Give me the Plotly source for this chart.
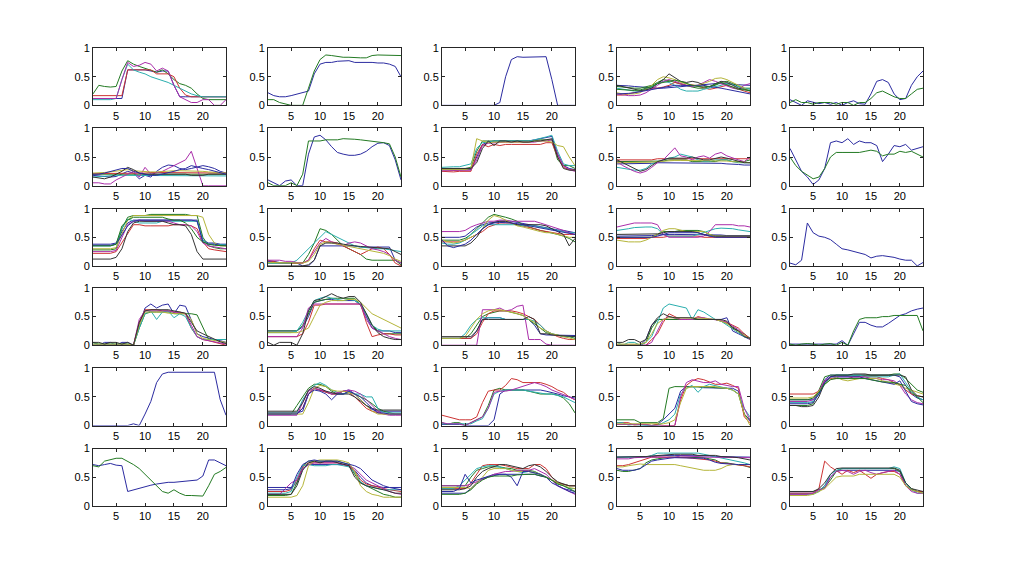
import plotly.graph_objects as go

X = list(range(1, 25))

panel_01 = [
    [0.12,0.12,0.12,0.12,0.12,0.12,0.62,0.62,0.62,0.62,0.60,0.58, 0.60,0.60,0.35,0.15,0.15,0.15,0.15,0.15,0.15,0.15,0.15,0.15],
    [0.20,0.35,0.33,0.32,0.33,0.60,0.78,0.72,0.68,0.65,0.62,0.58, 0.62,0.55,0.45,0.38,0.35,0.30,0.20,0.12,0.10,0.10,0.10,0.10],
    [0.17,0.17,0.17,0.17,0.17,0.17,0.62,0.62,0.62,0.62,0.62,0.55, 0.55,0.55,0.50,0.30,0.18,0.15,0.15,0.15,0.15,0.15,0.15,0.15],
    [0.10,0.10,0.10,0.10,0.12,0.45,0.72,0.62,0.58,0.55,0.50,0.47, 0.43,0.40,0.35,0.30,0.25,0.20,0.17,0.15,0.15,0.15,0.15,0.15],
    [0.12,0.12,0.12,0.12,0.12,0.45,0.75,0.68,0.70,0.75,0.72,0.60, 0.65,0.60,0.35,0.15,0.10,0.05,0.05,0.10,0.10,0.00,0.00,0.10],
]
panel_02 = [
    [0.22,0.17,0.15,0.15,0.17,0.20,0.22,0.25,0.55,0.72,0.75,0.75, 0.77,0.78,0.78,0.75,0.75,0.76,0.75,0.74,0.74,0.72,0.68,0.50],
    [0.10,0.10,0.05,0.02,0.00,0.00,0.00,0.30,0.60,0.80,0.88,0.87, 0.85,0.84,0.84,0.83,0.83,0.83,0.87,0.88,0.88,0.88,0.88,0.87],
]
panel_03 = [
    [0,0,0,0,0,0,0,0,0,0,0.05,0.50, 0.80,0.85,0.84,0.84,0.84,0.84,0.85,0.45,0,0,0,0],
]
panel_04 = [
    [0.35,0.35,0.34,0.33,0.32,0.31,0.30,0.30,0.30,0.31,0.32,0.33, 0.34,0.35,0.36,0.37,0.37,0.38,0.38,0.38,0.37,0.36,0.35,0.35],
    [0.33,0.32,0.30,0.30,0.30,0.32,0.35,0.40,0.45,0.43,0.40,0.38, 0.35,0.32,0.30,0.30,0.33,0.35,0.40,0.42,0.38,0.33,0.30,0.30],
    [0.18,0.18,0.20,0.22,0.25,0.27,0.30,0.30,0.32,0.35,0.40,0.38, 0.35,0.36,0.33,0.30,0.28,0.30,0.32,0.35,0.32,0.28,0.25,0.22],
    [0.30,0.28,0.26,0.25,0.25,0.28,0.32,0.38,0.42,0.40,0.35,0.28, 0.25,0.25,0.25,0.28,0.30,0.32,0.35,0.38,0.36,0.32,0.30,0.28],
    [0.20,0.18,0.17,0.17,0.18,0.22,0.28,0.35,0.42,0.45,0.42,0.38, 0.35,0.33,0.35,0.40,0.45,0.42,0.38,0.35,0.30,0.28,0.35,0.38],
    [0.22,0.20,0.20,0.20,0.22,0.28,0.35,0.45,0.50,0.48,0.45,0.40, 0.38,0.35,0.35,0.38,0.42,0.47,0.48,0.45,0.40,0.35,0.30,0.25],
    [0.35,0.33,0.30,0.28,0.26,0.27,0.30,0.38,0.45,0.55,0.48,0.42, 0.40,0.42,0.40,0.35,0.32,0.38,0.42,0.40,0.35,0.30,0.28,0.25],
    [0.20,0.20,0.21,0.22,0.24,0.26,0.28,0.30,0.32,0.34,0.35,0.35, 0.35,0.35,0.35,0.34,0.33,0.32,0.30,0.28,0.26,0.24,0.22,0.20],
    [0.28,0.27,0.26,0.26,0.27,0.30,0.33,0.38,0.40,0.42,0.44,0.42, 0.38,0.35,0.33,0.32,0.33,0.36,0.40,0.36,0.32,0.28,0.27,0.26],
]
panel_05 = [
    [0.10,0.05,0.00,0.08,0.05,0.03,0.05,0.02,0.05,0.00,0.05,0.08, 0.03,0.02,0.20,0.42,0.45,0.40,0.20,0.10,0.12,0.35,0.50,0.60],
    [0.05,0.10,0.05,0.05,0.02,0.05,0.05,0.05,0.02,0.05,0.05,0.00, 0.05,0.05,0.12,0.22,0.25,0.20,0.15,0.12,0.12,0.20,0.28,0.30],
]
panel_06 = [
    [0.18,0.17,0.15,0.15,0.16,0.20,0.25,0.22,0.12,0.18,0.15,0.25, 0.32,0.36,0.35,0.30,0.28,0.30,0.32,0.35,0.33,0.30,0.25,0.22],
    [0.20,0.20,0.20,0.20,0.20,0.20,0.20,0.20,0.19,0.19,0.19,0.19, 0.19,0.20,0.20,0.20,0.20,0.20,0.20,0.20,0.20,0.20,0.20,0.20],
    [0.21,0.21,0.21,0.21,0.22,0.22,0.22,0.22,0.22,0.22,0.23,0.23, 0.23,0.23,0.23,0.23,0.23,0.23,0.23,0.22,0.22,0.22,0.22,0.22],
    [0.15,0.16,0.17,0.18,0.18,0.18,0.18,0.18,0.18,0.18,0.17,0.17, 0.17,0.17,0.17,0.17,0.17,0.17,0.17,0.17,0.17,0.17,0.17,0.17],
    [0.05,0.05,0.03,0.03,0.10,0.15,0.20,0.25,0.15,0.32,0.20,0.22, 0.25,0.30,0.35,0.40,0.45,0.60,0.30,0.00,0.00,0.00,0.00,0.00],
    [0.22,0.22,0.23,0.24,0.25,0.27,0.28,0.26,0.25,0.24,0.24,0.24, 0.25,0.25,0.26,0.26,0.26,0.26,0.25,0.25,0.24,0.23,0.23,0.22],
    [0.15,0.14,0.12,0.15,0.20,0.25,0.32,0.28,0.22,0.20,0.20,0.20, 0.20,0.20,0.20,0.20,0.20,0.18,0.18,0.18,0.20,0.20,0.20,0.20],
    [0.20,0.20,0.22,0.25,0.28,0.30,0.30,0.25,0.22,0.20,0.18,0.18, 0.20,0.22,0.25,0.28,0.30,0.35,0.32,0.30,0.28,0.25,0.22,0.20],
]
panel_07 = [
    [0.10,0.05,0.00,0.08,0.10,0.00,0.00,0.55,0.85,0.88,0.80,0.68, 0.58,0.55,0.53,0.53,0.55,0.60,0.68,0.74,0.75,0.70,0.45,0.10],
    [0.05,0.00,0.00,0.00,0.05,0.00,0.20,0.78,0.78,0.78,0.80,0.80, 0.80,0.82,0.82,0.81,0.80,0.79,0.78,0.77,0.75,0.73,0.50,0.15],
]
panel_08 = [
    [0.28,0.28,0.28,0.28,0.28,0.28,0.50,0.72,0.76,0.78,0.78,0.78, 0.78,0.78,0.78,0.78,0.80,0.82,0.85,0.86,0.55,0.35,0.30,0.28],
    [0.30,0.30,0.30,0.30,0.30,0.32,0.60,0.78,0.78,0.78,0.78,0.78, 0.78,0.78,0.78,0.78,0.78,0.80,0.80,0.80,0.45,0.35,0.35,0.30],
    [0.25,0.24,0.24,0.25,0.25,0.25,0.55,0.72,0.68,0.72,0.70,0.72, 0.72,0.72,0.72,0.72,0.72,0.72,0.75,0.75,0.50,0.32,0.28,0.27],
    [0.32,0.33,0.33,0.33,0.35,0.38,0.65,0.75,0.76,0.78,0.78,0.78, 0.78,0.78,0.78,0.78,0.80,0.82,0.85,0.88,0.60,0.38,0.35,0.35],
    [0.26,0.26,0.26,0.26,0.26,0.27,0.45,0.70,0.74,0.75,0.75,0.76, 0.76,0.76,0.76,0.76,0.76,0.78,0.78,0.80,0.55,0.35,0.28,0.25],
    [0.28,0.28,0.28,0.28,0.28,0.30,0.82,0.78,0.75,0.76,0.76,0.76, 0.75,0.75,0.75,0.76,0.78,0.78,0.78,0.76,0.70,0.68,0.50,0.35],
    [0.30,0.30,0.30,0.30,0.30,0.30,0.40,0.65,0.78,0.70,0.78,0.78, 0.76,0.78,0.76,0.76,0.78,0.78,0.80,0.82,0.50,0.30,0.27,0.27],
]
panel_09 = [
    [0.38,0.38,0.38,0.38,0.38,0.38,0.39,0.40,0.40,0.40,0.40,0.40, 0.40,0.40,0.40,0.40,0.40,0.40,0.39,0.38,0.38,0.37,0.36,0.36],
    [0.42,0.42,0.42,0.42,0.42,0.42,0.42,0.42,0.43,0.45,0.45,0.45, 0.45,0.42,0.42,0.42,0.42,0.42,0.45,0.45,0.42,0.42,0.42,0.45],
    [0.45,0.45,0.45,0.45,0.45,0.45,0.45,0.47,0.47,0.47,0.47,0.47, 0.47,0.47,0.47,0.47,0.47,0.47,0.47,0.47,0.47,0.47,0.47,0.47],
    [0.32,0.30,0.28,0.27,0.27,0.30,0.38,0.42,0.45,0.48,0.50,0.55, 0.52,0.50,0.45,0.42,0.42,0.45,0.45,0.45,0.42,0.40,0.40,0.40],
    [0.42,0.35,0.30,0.25,0.22,0.25,0.32,0.40,0.45,0.55,0.66,0.52, 0.50,0.45,0.50,0.52,0.48,0.55,0.58,0.52,0.48,0.45,0.42,0.50],
    [0.40,0.40,0.40,0.40,0.40,0.40,0.41,0.42,0.43,0.44,0.44,0.44, 0.44,0.44,0.44,0.44,0.44,0.44,0.44,0.43,0.42,0.41,0.40,0.40],
    [0.45,0.40,0.35,0.30,0.25,0.28,0.35,0.42,0.45,0.48,0.48,0.48, 0.48,0.50,0.48,0.45,0.45,0.48,0.50,0.48,0.45,0.42,0.40,0.40],
]
panel_10 = [
    [0.65,0.45,0.25,0.15,0.02,0.10,0.30,0.75,0.78,0.75,0.82,0.72, 0.78,0.75,0.75,0.70,0.42,0.55,0.70,0.68,0.72,0.62,0.65,0.68],
    [0.50,0.35,0.25,0.18,0.12,0.15,0.30,0.50,0.58,0.58,0.58,0.57, 0.58,0.60,0.62,0.60,0.52,0.55,0.55,0.60,0.58,0.60,0.55,0.50],
]
panel_11 = [
    [0.38,0.38,0.38,0.38,0.40,0.60,0.75,0.80,0.80,0.80,0.80,0.80, 0.80,0.80,0.80,0.80,0.80,0.80,0.80,0.45,0.40,0.40,0.38,0.38],
    [0.28,0.28,0.28,0.28,0.30,0.65,0.85,0.88,0.88,0.88,0.90,0.90, 0.90,0.90,0.90,0.90,0.90,0.88,0.88,0.50,0.35,0.32,0.30,0.30],
    [0.22,0.22,0.22,0.22,0.25,0.40,0.55,0.72,0.72,0.70,0.70,0.70, 0.70,0.70,0.72,0.72,0.72,0.70,0.65,0.42,0.30,0.28,0.27,0.25],
    [0.35,0.35,0.35,0.35,0.38,0.65,0.82,0.78,0.75,0.75,0.75,0.75, 0.78,0.78,0.78,0.78,0.78,0.78,0.78,0.45,0.38,0.38,0.37,0.37],
    [0.25,0.25,0.25,0.25,0.27,0.50,0.72,0.78,0.80,0.78,0.78,0.78, 0.78,0.78,0.75,0.72,0.72,0.70,0.60,0.40,0.35,0.33,0.32,0.30],
    [0.30,0.30,0.30,0.30,0.32,0.55,0.80,0.88,0.88,0.88,0.88,0.88, 0.88,0.88,0.88,0.88,0.88,0.88,0.88,0.85,0.55,0.40,0.35,0.35],
    [0.12,0.12,0.12,0.12,0.15,0.30,0.60,0.75,0.78,0.78,0.78,0.78, 0.78,0.75,0.72,0.72,0.70,0.55,0.25,0.12,0.12,0.12,0.12,0.12],
    [0.36,0.36,0.36,0.36,0.38,0.55,0.70,0.78,0.80,0.80,0.80,0.80, 0.80,0.80,0.80,0.80,0.80,0.80,0.78,0.42,0.38,0.38,0.36,0.36],
    [0.35,0.35,0.35,0.35,0.38,0.70,0.80,0.85,0.85,0.85,0.85,0.85, 0.85,0.82,0.80,0.80,0.75,0.65,0.50,0.42,0.38,0.36,0.35,0.35],
]
panel_12 = [
    [0.08,0.08,0.06,0.05,0.05,0.05,0.00,0.00,0.10,0.35,0.35,0.35, 0.35,0.35,0.35,0.35,0.33,0.33,0.33,0.33,0.33,0.33,0.10,0.05],
    [0.05,0.05,0.05,0.05,0.05,0.05,0.05,0.20,0.40,0.65,0.62,0.55, 0.45,0.35,0.30,0.25,0.20,0.12,0.10,0.10,0.10,0.10,0.10,0.02],
    [0.10,0.08,0.05,0.05,0.05,0.05,0.05,0.10,0.30,0.45,0.42,0.42, 0.40,0.35,0.30,0.25,0.20,0.25,0.30,0.33,0.30,0.20,0.05,0.00],
    [0.05,0.05,0.05,0.05,0.05,0.10,0.20,0.30,0.40,0.50,0.60,0.55, 0.50,0.45,0.40,0.35,0.33,0.32,0.30,0.30,0.30,0.28,0.27,0.25],
    [0.10,0.10,0.10,0.08,0.08,0.06,0.05,0.10,0.25,0.40,0.48,0.42, 0.38,0.35,0.40,0.42,0.40,0.35,0.30,0.28,0.25,0.20,0.10,0.05],
    [0.06,0.06,0.05,0.05,0.05,0.05,0.05,0.08,0.20,0.38,0.42,0.40, 0.38,0.36,0.34,0.32,0.30,0.28,0.26,0.25,0.22,0.18,0.12,0.08],
    [0.00,0.00,0.00,0.00,0.00,0.00,0.00,0.02,0.10,0.35,0.40,0.40, 0.40,0.38,0.36,0.35,0.34,0.33,0.33,0.32,0.30,0.30,0.25,0.20],
]
panel_13 = [
    [0.50,0.50,0.50,0.50,0.52,0.60,0.68,0.72,0.75,0.76,0.78,0.78, 0.78,0.76,0.74,0.72,0.70,0.68,0.66,0.65,0.63,0.62,0.60,0.58],
    [0.45,0.45,0.45,0.45,0.48,0.55,0.65,0.75,0.85,0.90,0.88,0.85, 0.82,0.78,0.72,0.68,0.65,0.62,0.60,0.58,0.55,0.52,0.48,0.42],
    [0.42,0.42,0.42,0.42,0.45,0.50,0.55,0.60,0.68,0.72,0.75,0.75, 0.75,0.72,0.70,0.68,0.65,0.62,0.60,0.58,0.56,0.55,0.55,0.55],
    [0.40,0.38,0.38,0.40,0.45,0.55,0.62,0.70,0.72,0.72,0.72,0.72, 0.72,0.72,0.70,0.70,0.70,0.68,0.66,0.64,0.62,0.60,0.58,0.58],
    [0.60,0.60,0.60,0.60,0.62,0.68,0.72,0.75,0.78,0.78,0.80,0.80, 0.78,0.78,0.78,0.78,0.78,0.75,0.72,0.68,0.65,0.62,0.58,0.55],
    [0.45,0.42,0.40,0.42,0.45,0.50,0.55,0.65,0.80,0.88,0.85,0.80, 0.75,0.70,0.68,0.65,0.62,0.60,0.58,0.58,0.55,0.52,0.50,0.50],
    [0.35,0.35,0.35,0.35,0.35,0.40,0.50,0.65,0.72,0.76,0.78,0.78, 0.75,0.72,0.72,0.72,0.72,0.72,0.70,0.65,0.60,0.55,0.35,0.48],
    [0.45,0.35,0.32,0.35,0.38,0.45,0.55,0.65,0.72,0.75,0.76,0.76, 0.75,0.74,0.72,0.70,0.68,0.66,0.64,0.62,0.60,0.58,0.56,0.55],
]
panel_14 = [
    [0.52,0.52,0.52,0.52,0.52,0.52,0.53,0.54,0.55,0.55,0.55,0.55, 0.55,0.55,0.55,0.55,0.55,0.54,0.54,0.53,0.53,0.53,0.53,0.53],
    [0.50,0.50,0.50,0.50,0.50,0.50,0.50,0.55,0.60,0.60,0.60,0.62, 0.62,0.62,0.62,0.60,0.55,0.52,0.52,0.50,0.50,0.50,0.50,0.50],
    [0.48,0.48,0.48,0.48,0.48,0.48,0.50,0.50,0.50,0.52,0.52,0.52, 0.52,0.52,0.52,0.50,0.50,0.50,0.50,0.50,0.50,0.50,0.50,0.50],
    [0.62,0.63,0.65,0.67,0.68,0.68,0.68,0.65,0.55,0.52,0.52,0.52, 0.52,0.52,0.55,0.58,0.62,0.65,0.66,0.66,0.65,0.63,0.62,0.60],
    [0.68,0.70,0.72,0.75,0.75,0.75,0.75,0.72,0.55,0.50,0.50,0.50, 0.50,0.50,0.50,0.52,0.60,0.72,0.72,0.72,0.72,0.70,0.70,0.68],
    [0.45,0.43,0.42,0.42,0.42,0.45,0.50,0.55,0.62,0.65,0.65,0.63, 0.60,0.60,0.60,0.60,0.55,0.52,0.52,0.52,0.52,0.52,0.52,0.52],
    [0.55,0.55,0.55,0.55,0.55,0.55,0.55,0.56,0.58,0.60,0.60,0.60, 0.60,0.60,0.58,0.55,0.52,0.52,0.52,0.52,0.52,0.52,0.52,0.52],
    [0.50,0.50,0.50,0.50,0.50,0.50,0.50,0.52,0.55,0.58,0.58,0.58, 0.58,0.58,0.58,0.55,0.52,0.50,0.50,0.50,0.50,0.50,0.50,0.50],
]
panel_15 = [
    [0.05,0.02,0.10,0.75,0.58,0.52,0.50,0.46,0.38,0.30,0.28,0.25, 0.22,0.20,0.14,0.17,0.18,0.17,0.15,0.12,0.10,0.10,0.00,0.06],
]
panel_16 = [
    [0.05,0.00,0.05,0.05,0.00,0.05,0.05,0.00,0.35,0.65,0.72,0.65, 0.70,0.72,0.55,0.70,0.68,0.45,0.20,0.15,0.12,0.10,0.08,0.05],
    [0.05,0.02,0.02,0.02,0.02,0.02,0.02,0.00,0.30,0.55,0.58,0.58, 0.58,0.58,0.55,0.55,0.55,0.55,0.53,0.30,0.10,0.10,0.10,0.10],
    [0.00,0.00,0.00,0.00,0.00,0.00,0.00,0.00,0.40,0.62,0.62,0.62, 0.60,0.60,0.58,0.58,0.55,0.30,0.15,0.10,0.08,0.05,0.02,0.00],
    [0.02,0.02,0.02,0.02,0.02,0.02,0.02,0.00,0.30,0.55,0.60,0.45, 0.58,0.60,0.48,0.55,0.50,0.30,0.15,0.10,0.10,0.10,0.10,0.10],
    [0.00,0.00,0.00,0.00,0.00,0.00,0.00,0.00,0.45,0.60,0.60,0.60, 0.60,0.60,0.58,0.56,0.55,0.35,0.15,0.10,0.08,0.05,0.03,0.02],
    [0.02,0.02,0.02,0.02,0.02,0.02,0.02,0.00,0.35,0.58,0.58,0.58, 0.58,0.56,0.55,0.55,0.55,0.45,0.20,0.12,0.10,0.08,0.06,0.05],
    [0.05,0.05,0.02,0.05,0.05,0.02,0.05,0.00,0.40,0.60,0.62,0.62, 0.62,0.62,0.60,0.58,0.56,0.40,0.25,0.20,0.15,0.10,0.06,0.03],
]
panel_17 = [
    [0.25,0.25,0.25,0.25,0.25,0.25,0.32,0.50,0.75,0.78,0.80,0.80, 0.78,0.78,0.78,0.78,0.70,0.50,0.30,0.25,0.25,0.25,0.22,0.22],
    [0.25,0.25,0.25,0.25,0.25,0.25,0.35,0.55,0.75,0.78,0.80,0.82, 0.82,0.82,0.82,0.82,0.70,0.55,0.35,0.25,0.20,0.20,0.20,0.20],
    [0.15,0.15,0.15,0.15,0.15,0.15,0.20,0.40,0.70,0.70,0.72,0.72, 0.72,0.72,0.72,0.72,0.72,0.40,0.15,0.18,0.20,0.20,0.18,0.18],
    [0.22,0.22,0.22,0.22,0.22,0.25,0.40,0.60,0.78,0.82,0.85,0.82, 0.80,0.78,0.80,0.78,0.72,0.55,0.35,0.28,0.25,0.25,0.25,0.25],
    [0.15,0.15,0.15,0.15,0.15,0.15,0.30,0.65,0.72,0.72,0.72,0.72, 0.72,0.72,0.72,0.72,0.72,0.45,0.30,0.25,0.20,0.15,0.12,0.10],
    [0.22,0.22,0.22,0.22,0.22,0.22,0.25,0.30,0.50,0.70,0.75,0.78, 0.78,0.78,0.80,0.80,0.75,0.65,0.55,0.50,0.45,0.40,0.35,0.30],
    [0.05,0.00,0.05,0.05,0.05,0.00,0.20,0.60,0.78,0.80,0.85,0.90, 0.85,0.82,0.85,0.85,0.75,0.55,0.35,0.22,0.15,0.12,0.10,0.10],
]
panel_18 = [
    [0.12,0.12,0.12,0.12,0.12,0.12,0.25,0.45,0.48,0.48,0.48,0.45, 0.45,0.45,0.45,0.45,0.35,0.20,0.18,0.18,0.17,0.17,0.17,0.17],
    [0.12,0.12,0.12,0.12,0.12,0.20,0.35,0.50,0.55,0.58,0.60,0.60, 0.58,0.55,0.52,0.45,0.38,0.30,0.22,0.20,0.18,0.15,0.15,0.12],
    [0.12,0.12,0.12,0.12,0.12,0.12,0.20,0.40,0.55,0.60,0.60,0.60, 0.60,0.58,0.55,0.50,0.45,0.35,0.25,0.20,0.15,0.12,0.10,0.10],
    [0.12,0.12,0.12,0.12,0.20,0.35,0.45,0.48,0.48,0.48,0.48,0.45, 0.45,0.45,0.45,0.45,0.42,0.35,0.25,0.20,0.18,0.15,0.15,0.15],
    [0.00,0.00,0.00,0.00,0.00,0.00,0.00,0.62,0.62,0.62,0.65,0.60, 0.62,0.68,0.70,0.10,0.10,0.10,0.02,0.00,0.00,0.00,0.00,0.00],
    [0.12,0.12,0.12,0.12,0.15,0.30,0.45,0.55,0.60,0.62,0.62,0.60, 0.58,0.55,0.52,0.45,0.40,0.30,0.25,0.20,0.18,0.15,0.12,0.10],
    [0.15,0.15,0.15,0.15,0.15,0.15,0.25,0.45,0.45,0.45,0.45,0.45, 0.45,0.45,0.45,0.50,0.45,0.20,0.20,0.18,0.17,0.16,0.15,0.15],
]
panel_19 = [
    [0.00,0.00,0.00,0.00,0.00,0.10,0.35,0.45,0.45,0.45,0.45,0.45, 0.45,0.45,0.45,0.45,0.45,0.45,0.45,0.48,0.25,0.20,0.15,0.10],
    [0.00,0.00,0.00,0.00,0.00,0.05,0.30,0.45,0.45,0.45,0.45,0.45, 0.45,0.45,0.45,0.45,0.45,0.45,0.42,0.38,0.32,0.25,0.20,0.12],
    [0.00,0.00,0.00,0.00,0.00,0.00,0.10,0.20,0.40,0.55,0.50,0.45, 0.45,0.45,0.50,0.48,0.45,0.45,0.42,0.40,0.35,0.30,0.20,0.12],
    [0.05,0.00,0.05,0.05,0.00,0.05,0.15,0.40,0.65,0.72,0.70,0.68, 0.65,0.45,0.62,0.58,0.52,0.45,0.42,0.35,0.28,0.22,0.15,0.12],
    [0.00,0.00,0.00,0.00,0.00,0.00,0.05,0.25,0.45,0.50,0.48,0.45, 0.45,0.45,0.48,0.48,0.46,0.45,0.43,0.40,0.33,0.27,0.18,0.10],
    [0.02,0.02,0.02,0.02,0.02,0.05,0.20,0.38,0.45,0.48,0.48,0.48, 0.48,0.48,0.48,0.47,0.46,0.45,0.42,0.38,0.30,0.24,0.17,0.11],
    [0.05,0.05,0.10,0.10,0.05,0.10,0.35,0.48,0.55,0.50,0.48,0.48, 0.48,0.48,0.45,0.45,0.45,0.45,0.45,0.42,0.30,0.25,0.15,0.12],
]
panel_20 = [
    [0.02,0.02,0.02,0.03,0.03,0.02,0.02,0.02,0.02,0.08,0.00,0.20, 0.40,0.40,0.35,0.32,0.32,0.38,0.45,0.52,0.55,0.60,0.63,0.65],
    [0.02,0.00,0.02,0.03,0.02,0.00,0.02,0.03,0.00,0.05,0.00,0.25, 0.45,0.48,0.48,0.48,0.50,0.50,0.52,0.52,0.53,0.52,0.52,0.25],
]
panel_21 = [
    [0.00,0.00,0.00,0.00,0.01,0.00,0.00,0.03,0.00,0.20,0.42,0.75, 0.90,0.93,0.93,0.93,0.93,0.93,0.93,0.93,0.93,0.93,0.45,0.18],
]
panel_22 = [
    [0.22,0.22,0.22,0.22,0.22,0.22,0.25,0.55,0.65,0.62,0.58,0.55, 0.55,0.60,0.62,0.55,0.45,0.35,0.28,0.25,0.25,0.25,0.25,0.25],
    [0.20,0.20,0.20,0.20,0.20,0.35,0.50,0.65,0.72,0.72,0.68,0.60, 0.55,0.55,0.58,0.55,0.50,0.45,0.38,0.30,0.25,0.22,0.20,0.20],
    [0.22,0.22,0.22,0.22,0.22,0.22,0.30,0.55,0.65,0.62,0.58,0.55, 0.55,0.60,0.58,0.50,0.40,0.30,0.25,0.22,0.20,0.20,0.20,0.20],
    [0.22,0.22,0.22,0.22,0.22,0.22,0.45,0.60,0.70,0.75,0.70,0.62, 0.58,0.55,0.58,0.55,0.55,0.50,0.50,0.30,0.22,0.22,0.22,0.22],
    [0.18,0.18,0.18,0.18,0.18,0.18,0.40,0.60,0.65,0.62,0.60,0.55, 0.58,0.60,0.62,0.60,0.55,0.45,0.35,0.25,0.20,0.18,0.18,0.18],
    [0.20,0.20,0.20,0.20,0.20,0.20,0.20,0.40,0.65,0.70,0.68,0.62, 0.60,0.60,0.58,0.55,0.45,0.35,0.25,0.20,0.20,0.20,0.20,0.20],
    [0.25,0.25,0.25,0.25,0.25,0.25,0.40,0.62,0.68,0.65,0.60,0.58, 0.55,0.55,0.55,0.50,0.42,0.35,0.30,0.27,0.27,0.27,0.27,0.27],
    [0.20,0.20,0.20,0.20,0.20,0.20,0.30,0.55,0.62,0.60,0.55,0.45, 0.55,0.55,0.60,0.55,0.50,0.40,0.30,0.22,0.22,0.20,0.20,0.20],
]
panel_23 = [
    [0.02,0.02,0.02,0.02,0.00,0.00,0.00,0.00,0.00,0.10,0.55,0.62, 0.62,0.62,0.62,0.62,0.62,0.62,0.60,0.58,0.55,0.52,0.50,0.48],
    [0.05,0.02,0.05,0.05,0.00,0.05,0.10,0.15,0.35,0.62,0.65,0.62, 0.62,0.62,0.62,0.60,0.58,0.55,0.55,0.55,0.53,0.48,0.38,0.22],
    [0.18,0.15,0.12,0.10,0.10,0.10,0.15,0.40,0.60,0.62,0.62,0.70, 0.82,0.80,0.75,0.75,0.75,0.75,0.72,0.68,0.62,0.58,0.50,0.45],
    [0.03,0.03,0.03,0.03,0.02,0.03,0.08,0.12,0.30,0.55,0.60,0.62, 0.62,0.62,0.62,0.60,0.58,0.56,0.55,0.55,0.52,0.50,0.45,0.40],
    [0.05,0.03,0.03,0.03,0.00,0.05,0.10,0.15,0.30,0.58,0.60,0.60, 0.62,0.65,0.68,0.72,0.75,0.72,0.68,0.62,0.58,0.55,0.50,0.45],
]
panel_24 = [
    [0.02,0.02,0.03,0.02,0.02,0.00,0.00,0.02,0.10,0.20,0.30,0.60, 0.68,0.68,0.68,0.66,0.66,0.66,0.66,0.65,0.65,0.60,0.20,0.08],
    [0.10,0.10,0.10,0.10,0.05,0.05,0.05,0.05,0.12,0.65,0.68,0.68, 0.68,0.68,0.68,0.68,0.67,0.66,0.66,0.65,0.62,0.55,0.20,0.10],
    [0.05,0.05,0.05,0.00,0.02,0.02,0.00,0.02,0.00,0.00,0.00,0.45, 0.70,0.78,0.82,0.80,0.76,0.72,0.72,0.74,0.70,0.65,0.15,0.05],
    [0.05,0.05,0.00,0.02,0.00,0.00,0.00,0.00,0.05,0.10,0.20,0.55, 0.65,0.70,0.58,0.68,0.72,0.70,0.68,0.65,0.62,0.55,0.30,0.15],
    [0.02,0.02,0.02,0.02,0.02,0.02,0.00,0.00,0.00,0.00,0.00,0.50, 0.75,0.80,0.78,0.75,0.75,0.78,0.72,0.70,0.68,0.68,0.30,0.10],
    [0.03,0.03,0.03,0.03,0.03,0.03,0.03,0.03,0.03,0.05,0.10,0.40, 0.65,0.68,0.68,0.68,0.68,0.68,0.66,0.65,0.62,0.55,0.20,0.00],
]
panel_25 = [
    [0.45,0.45,0.45,0.45,0.45,0.55,0.80,0.88,0.88,0.88,0.88,0.88, 0.88,0.88,0.88,0.88,0.88,0.88,0.88,0.85,0.70,0.55,0.48,0.45],
    [0.35,0.35,0.35,0.35,0.38,0.60,0.85,0.88,0.88,0.88,0.88,0.88, 0.88,0.88,0.88,0.88,0.88,0.88,0.90,0.90,0.82,0.72,0.62,0.58],
    [0.55,0.55,0.55,0.55,0.55,0.60,0.78,0.82,0.82,0.82,0.82,0.85, 0.85,0.85,0.85,0.85,0.82,0.80,0.75,0.72,0.62,0.55,0.52,0.50],
    [0.40,0.40,0.40,0.40,0.42,0.55,0.72,0.85,0.88,0.88,0.88,0.88, 0.88,0.85,0.85,0.85,0.85,0.85,0.88,0.90,0.75,0.60,0.50,0.45],
    [0.42,0.42,0.42,0.42,0.45,0.60,0.78,0.85,0.85,0.85,0.85,0.85, 0.85,0.85,0.82,0.82,0.80,0.80,0.78,0.70,0.55,0.45,0.40,0.38],
    [0.48,0.48,0.48,0.48,0.50,0.60,0.72,0.80,0.85,0.80,0.78,0.80, 0.82,0.82,0.82,0.82,0.78,0.75,0.72,0.70,0.65,0.62,0.58,0.55],
    [0.35,0.35,0.33,0.33,0.35,0.50,0.75,0.85,0.88,0.88,0.88,0.90, 0.90,0.90,0.88,0.88,0.88,0.88,0.88,0.88,0.85,0.62,0.52,0.50],
    [0.38,0.38,0.38,0.38,0.40,0.55,0.75,0.85,0.85,0.85,0.85,0.85, 0.85,0.82,0.80,0.78,0.76,0.74,0.72,0.78,0.60,0.42,0.38,0.36],
    [0.45,0.45,0.45,0.45,0.48,0.58,0.72,0.80,0.82,0.82,0.82,0.82, 0.82,0.82,0.80,0.78,0.76,0.76,0.75,0.72,0.70,0.58,0.50,0.40],
]
panel_26 = [
    [0.72,0.70,0.72,0.74,0.71,0.70,0.25,0.28,0.31,0.34,0.36,0.38, 0.40,0.41,0.41,0.42,0.43,0.43,0.45,0.52,0.80,0.80,0.75,0.70],
    [0.70,0.68,0.78,0.80,0.83,0.83,0.78,0.72,0.65,0.55,0.45,0.35, 0.25,0.22,0.28,0.22,0.18,0.18,0.17,0.17,0.35,0.55,0.60,0.67],
]
panel_27 = [
    [0.32,0.32,0.32,0.32,0.32,0.40,0.65,0.72,0.72,0.72,0.72,0.72, 0.72,0.72,0.70,0.62,0.50,0.40,0.35,0.33,0.32,0.32,0.32,0.32],
    [0.18,0.18,0.18,0.18,0.20,0.40,0.70,0.78,0.78,0.78,0.78,0.78, 0.78,0.75,0.72,0.55,0.40,0.35,0.30,0.25,0.20,0.18,0.15,0.15],
    [0.25,0.25,0.25,0.25,0.28,0.45,0.68,0.75,0.75,0.75,0.75,0.75, 0.75,0.72,0.70,0.60,0.45,0.38,0.35,0.32,0.30,0.28,0.26,0.25],
    [0.22,0.22,0.22,0.22,0.25,0.50,0.70,0.72,0.70,0.70,0.70,0.72, 0.72,0.70,0.68,0.58,0.42,0.35,0.32,0.30,0.28,0.28,0.28,0.28],
    [0.20,0.20,0.20,0.30,0.40,0.45,0.65,0.72,0.75,0.75,0.75,0.75, 0.75,0.72,0.70,0.65,0.55,0.45,0.40,0.35,0.30,0.25,0.22,0.20],
    [0.15,0.15,0.15,0.15,0.15,0.18,0.35,0.70,0.78,0.80,0.80,0.80, 0.80,0.78,0.75,0.60,0.35,0.25,0.20,0.18,0.15,0.15,0.15,0.15],
    [0.20,0.20,0.20,0.20,0.20,0.35,0.62,0.75,0.78,0.75,0.78,0.78, 0.75,0.72,0.70,0.50,0.40,0.35,0.32,0.30,0.28,0.25,0.22,0.22],
    [0.28,0.28,0.28,0.28,0.30,0.55,0.72,0.78,0.80,0.78,0.78,0.78, 0.78,0.75,0.72,0.70,0.65,0.55,0.45,0.40,0.35,0.32,0.30,0.28],
]
panel_28 = [
    [0.22,0.22,0.22,0.22,0.22,0.30,0.40,0.48,0.52,0.55,0.55,0.55, 0.55,0.55,0.55,0.55,0.55,0.52,0.50,0.45,0.35,0.30,0.28,0.25],
    [0.35,0.35,0.35,0.35,0.35,0.50,0.62,0.65,0.68,0.68,0.68,0.66, 0.65,0.62,0.62,0.62,0.60,0.55,0.50,0.45,0.40,0.38,0.35,0.35],
    [0.30,0.30,0.30,0.30,0.30,0.40,0.55,0.70,0.72,0.72,0.72,0.70, 0.68,0.65,0.65,0.65,0.72,0.72,0.65,0.50,0.40,0.38,0.35,0.35],
    [0.30,0.30,0.30,0.35,0.45,0.55,0.65,0.68,0.70,0.70,0.68,0.65, 0.62,0.60,0.58,0.60,0.58,0.55,0.50,0.45,0.38,0.35,0.30,0.30],
    [0.35,0.35,0.35,0.35,0.35,0.38,0.42,0.45,0.50,0.55,0.58,0.60, 0.60,0.62,0.62,0.62,0.65,0.60,0.55,0.45,0.35,0.30,0.25,0.20],
    [0.32,0.32,0.32,0.32,0.32,0.30,0.40,0.50,0.62,0.65,0.65,0.65, 0.62,0.60,0.60,0.60,0.58,0.55,0.50,0.45,0.40,0.35,0.32,0.30],
    [0.28,0.28,0.28,0.28,0.30,0.35,0.50,0.60,0.65,0.68,0.72,0.72, 0.70,0.68,0.65,0.70,0.72,0.68,0.60,0.50,0.42,0.38,0.35,0.35],
    [0.25,0.25,0.25,0.30,0.55,0.40,0.45,0.48,0.50,0.52,0.55,0.55, 0.50,0.35,0.60,0.60,0.58,0.55,0.50,0.40,0.35,0.30,0.25,0.22],
    [0.20,0.20,0.20,0.20,0.22,0.28,0.38,0.45,0.50,0.52,0.52,0.52, 0.52,0.54,0.55,0.55,0.55,0.52,0.50,0.45,0.38,0.35,0.30,0.25],
]
panel_29 = [
    [0.85,0.85,0.85,0.85,0.85,0.85,0.86,0.87,0.88,0.88,0.88,0.88, 0.88,0.88,0.88,0.88,0.87,0.86,0.86,0.86,0.86,0.86,0.85,0.85],
    [0.62,0.60,0.60,0.62,0.65,0.75,0.80,0.82,0.84,0.85,0.85,0.85, 0.85,0.85,0.85,0.84,0.82,0.80,0.75,0.75,0.73,0.72,0.70,0.67],
    [0.70,0.70,0.72,0.75,0.78,0.82,0.85,0.85,0.85,0.85,0.85,0.85, 0.84,0.83,0.82,0.82,0.80,0.78,0.75,0.74,0.73,0.72,0.70,0.68],
    [0.85,0.85,0.84,0.84,0.84,0.85,0.88,0.92,0.92,0.92,0.92,0.92, 0.92,0.92,0.92,0.90,0.88,0.86,0.84,0.82,0.80,0.78,0.75,0.72],
    [0.82,0.82,0.82,0.84,0.85,0.85,0.85,0.85,0.85,0.85,0.85,0.87, 0.87,0.87,0.86,0.85,0.85,0.85,0.85,0.84,0.84,0.84,0.84,0.84],
    [0.68,0.68,0.70,0.72,0.73,0.72,0.72,0.72,0.72,0.72,0.72,0.70, 0.68,0.66,0.64,0.62,0.62,0.62,0.65,0.70,0.72,0.72,0.72,0.72],
    [0.85,0.85,0.85,0.85,0.85,0.86,0.87,0.88,0.88,0.90,0.90,0.90, 0.90,0.90,0.88,0.88,0.88,0.88,0.86,0.86,0.85,0.84,0.82,0.80],
    [0.65,0.62,0.62,0.62,0.65,0.72,0.78,0.80,0.82,0.83,0.84,0.84, 0.84,0.84,0.84,0.83,0.80,0.76,0.74,0.73,0.72,0.72,0.72,0.72],
]
panel_30 = [
    [0.22,0.22,0.22,0.22,0.22,0.25,0.35,0.50,0.60,0.62,0.62,0.62, 0.62,0.62,0.62,0.62,0.62,0.62,0.62,0.60,0.35,0.28,0.25,0.25],
    [0.25,0.25,0.25,0.25,0.25,0.28,0.32,0.45,0.60,0.65,0.65,0.65, 0.65,0.65,0.65,0.65,0.65,0.65,0.65,0.60,0.40,0.30,0.25,0.22],
    [0.22,0.22,0.22,0.22,0.22,0.30,0.78,0.68,0.62,0.55,0.62,0.58, 0.62,0.55,0.48,0.55,0.58,0.60,0.60,0.55,0.35,0.28,0.25,0.25],
    [0.20,0.20,0.20,0.20,0.20,0.25,0.35,0.55,0.62,0.65,0.65,0.65, 0.65,0.65,0.65,0.65,0.65,0.65,0.68,0.65,0.40,0.28,0.22,0.22],
    [0.20,0.20,0.20,0.20,0.22,0.28,0.30,0.50,0.60,0.62,0.60,0.55, 0.60,0.62,0.58,0.55,0.58,0.60,0.62,0.55,0.35,0.25,0.22,0.22],
    [0.18,0.18,0.18,0.18,0.20,0.25,0.30,0.40,0.50,0.52,0.52,0.52, 0.55,0.55,0.55,0.55,0.55,0.55,0.55,0.50,0.35,0.28,0.25,0.22],
    [0.25,0.25,0.25,0.25,0.25,0.30,0.40,0.55,0.65,0.66,0.66,0.66, 0.66,0.66,0.66,0.66,0.66,0.66,0.66,0.62,0.40,0.30,0.28,0.25],
]

PANELS = [
    panel_01, panel_02, panel_03, panel_04, panel_05,
    panel_06, panel_07, panel_08, panel_09, panel_10,
    panel_11, panel_12, panel_13, panel_14, panel_15,
    panel_16, panel_17, panel_18, panel_19, panel_20,
    panel_21, panel_22, panel_23, panel_24, panel_25,
    panel_26, panel_27, panel_28, panel_29, panel_30,
]

X_TICKS = [5, 10, 15, 20]
Y_TICKS = [0, 0.5, 1]
Y_TICK_TEXT = ["0", "0.5", "1"]

# ---- style / layout (MATLAB-like) ----
COLOR_ORDER = ["#2b2ba0", "#237a23", "#cc3333", "#2aaeae", "#aa2eaa", "#b5b53a", "#333333"]
W, H = 1024, 573
COL_LEFT = [93, 268, 442, 617, 790]
ROW_TOP = [43, 125, 207, 288, 370, 452]
AX_W, AX_H = 133, 58.5
FONT = dict(family="Liberation Sans, Arial, sans-serif", size=11, color="#000000")

fig = go.Figure()
layout_axes = {}
for i, panel in enumerate(PANELS):
    r, c = divmod(i, 5)
    n = i + 1
    xa = "x" if n == 1 else f"x{n}"
    ya = "y" if n == 1 else f"y{n}"
    for k, series in enumerate(panel):
        assert len(series) == len(X), (n, k, len(series))
        fig.add_trace(go.Scatter(
            x=X, y=series, xaxis=xa, yaxis=ya, mode="lines",
            line=dict(color=COLOR_ORDER[k % len(COLOR_ORDER)], width=1),
            hoverinfo="skip", showlegend=False,
        ))
    l = COL_LEFT[c]
    t = ROW_TOP[r]
    xkey = "xaxis" if n == 1 else f"xaxis{n}"
    ykey = "yaxis" if n == 1 else f"yaxis{n}"
    common = dict(showgrid=False, zeroline=False, showline=True, linecolor="#262626",
                  linewidth=1, mirror="ticks", ticks="inside", ticklen=3, tickwidth=1,
                  tickcolor="#262626", tickfont=FONT, fixedrange=True)
    layout_axes[xkey] = dict(domain=[l / W, (l + AX_W) / W], range=[1, 24],
                             tickmode="array", tickvals=X_TICKS,
                             ticktext=[str(v) for v in X_TICKS], anchor=ya, **common)
    layout_axes[ykey] = dict(domain=[1 - (t + AX_H) / H, 1 - t / H], range=[0, 1],
                             tickmode="array", tickvals=Y_TICKS, ticktext=Y_TICK_TEXT,
                             anchor=xa, **common)

fig.update_layout(width=W, height=H, autosize=False,
                  margin=dict(l=0, r=0, t=0, b=0),
                  paper_bgcolor="white", plot_bgcolor="white",
                  showlegend=False, **layout_axes)
fig.write_html("out.html", config={"displayModeBar": False})
